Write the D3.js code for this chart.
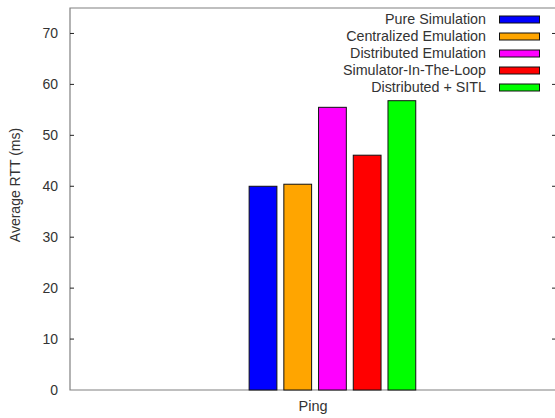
<!DOCTYPE html>
<html>
<head>
<meta charset="utf-8">
<script src="https://cdn.jsdelivr.net/npm/d3@7"></script>
<style>
  body { margin: 0; background: #fff; }
  text { font-family: "Liberation Sans", Arial, sans-serif; fill: #333; }
</style>
</head>
<body>
<svg id="graph" width="555" height="418"></svg>
<script>
  var svg = d3.select("#graph");

  // data
  var categories = ["Ping"];
  var series = ["Pure Simulation", "Centralized Emulation", "Distributed Emulation",
                "Simulator-In-The-Loop", "Distributed + SITL"];
  var values = [40.0, 40.4, 55.5, 46.1, 56.8];
  var colors = ["#0000ff", "#ffa500", "#ff00ff", "#ff0000", "#00ff00"];
  var yTicks = [0, 10, 20, 30, 40, 50, 60, 70];

  var padLeft = 70, padRight = 556, padTop = 8, padBottom = 390;
  var axisColor = "#808080";

  // y scale
  var y = d3.scaleLinear().domain([0, 75]).range([padBottom, padTop]);

  // x: one cluster centred on the category, gnuplot-like slots (5 bars + gap 2)
  var x = d3.scaleLinear().domain([-1, 1]).range([padLeft, padRight]);
  var slot = 1 / (series.length + 2);
  var clusterShift = 0.08;
  var barW = x(0.8 * slot) - x(0);

  // border (top, left, bottom)
  svg.append("path")
    .attr("d", "M" + padRight + "," + padTop + "H" + padLeft + "V" + padBottom + "H" + padRight)
    .attr("fill", "none")
    .attr("stroke", axisColor)
    .attr("stroke-width", 1.2);

  // y ticks left + right
  var tk = svg.append("g");
  tk.selectAll(".tl").data(yTicks.slice(1)).enter().append("line")
    .attr("x1", padLeft).attr("x2", padLeft + 4)
    .attr("y1", function(d) { return y(d); }).attr("y2", function(d) { return y(d); })
    .attr("stroke", "#222");
  tk.selectAll(".tr").data(yTicks.slice(1)).enter().append("line")
    .attr("x1", padRight - 4).attr("x2", padRight)
    .attr("y1", function(d) { return y(d); }).attr("y2", function(d) { return y(d); })
    .attr("stroke", "#222");
  tk.selectAll("text").data(yTicks).enter().append("text")
    .attr("x", padLeft - 12)
    .attr("y", function(d) { return y(d) + 5; })
    .attr("text-anchor", "end")
    .style("font-size", "14px")
    .text(function(d) { return d; });

  // bars
  categories.forEach(function(cat, ci) {
    svg.selectAll(".bar" + ci).data(values).enter().append("rect")
      .attr("x", function(d, j) { return x(ci + clusterShift + (j - 2) * slot) - barW / 2; })
      .attr("y", function(d) { return y(d); })
      .attr("width", barW)
      .attr("height", function(d) { return y(0) - y(d); })
      .attr("fill", function(d, j) { return colors[j]; })
      .attr("stroke", "#111")
      .attr("stroke-width", 1);

    svg.append("text")
      .attr("x", x(ci))
      .attr("y", 411)
      .attr("text-anchor", "middle")
      .style("font-size", "14.5px")
      .text(cat);
  });

  // y label
  svg.append("text")
    .attr("transform", "translate(20,185) rotate(-90)")
    .attr("text-anchor", "middle")
    .style("font-size", "14px")
    .text("Average RTT (ms)");

  // legend
  var leg = svg.append("g");
  series.forEach(function(s, i) {
    var cy = 19.5 + 17 * i;
    leg.append("text")
      .attr("x", 486).attr("y", cy + 4.5)
      .attr("text-anchor", "end")
      .style("font-size", "14.3px")
      .text(s);
    leg.append("rect")
      .attr("x", 499.5).attr("y", cy - 3.5)
      .attr("width", 40).attr("height", 7)
      .attr("fill", colors[i])
      .attr("stroke", "#111");
  });
</script>
</body>
</html>
